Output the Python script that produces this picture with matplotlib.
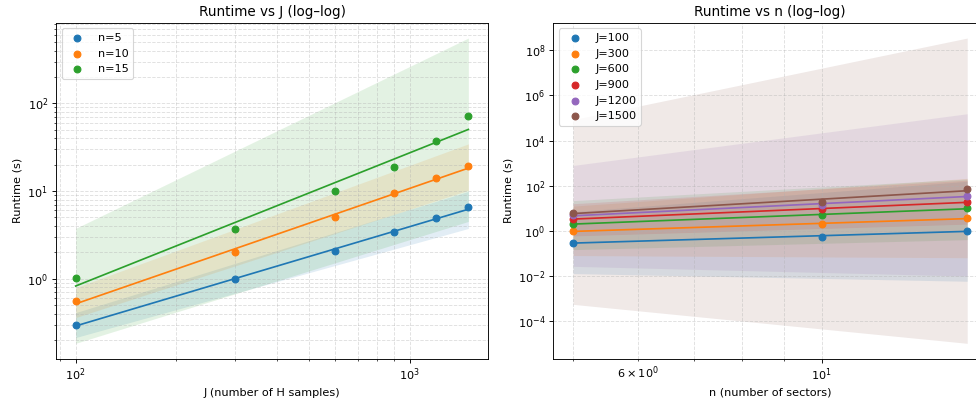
import numpy as np
import matplotlib
matplotlib.use("Agg")
import matplotlib.pyplot as plt

# measured runtimes (s), rows = n, columns = J
J_vals = [100, 300, 600, 900, 1200, 1500]
n_vals = [5, 10, 15]
runtime_n5 = [0.30, 0.98, 2.05, 3.4, 4.95, 6.5]
runtime_n10 = [0.556, 2.0, 5.1, 9.4, 13.9, 19.3]
runtime_n15 = [1.02, 3.7, 9.95, 19.0, 37.0, 72.0]

# confidence bands read at the ends of each fit
band_J_x = [100, 1500]
band_J_lo = [[0.213, 3.74], [0.36, 10.2], [0.183, 4.5]]
band_J_hi = [[0.41, 9.9], [0.79, 34.5], [3.75, 556.0]]

band_n_x = [5, 15]
band_n_lo = [[0.0129, 0.0059], [0.081, 0.065], [0.148, 0.41],
             [0.6, 2.0], [0.027, 0.010], [5.6e-4, 1.05e-5]]
band_n_hi = [[7.1, 158.0], [12.6, 214.0], [22.0, 200.0],
             [16.0, 178.0], [794.0, 1.55e5], [8.5e4, 3.5e8]]

runtime = np.array([runtime_n5, runtime_n10, runtime_n15])
colors = plt.rcParams['axes.prop_cycle'].by_key()['color']


def loglog_fit(x, y, xe):
    b, a = np.polyfit(np.log10(x), np.log10(y), 1)
    return 10 ** (a + b * np.log10(xe))


DPI = 81.3
fig = plt.figure(figsize=(976 / DPI, 402 / DPI), dpi=DPI)
ax1 = fig.add_axes([0.0574, 0.108, 0.4426, 0.8353])
ax2 = fig.add_axes([0.5669, 0.108, 0.4443, 0.8353])

for i, n in enumerate(n_vals):
    c = colors[i]
    ax1.fill_between(band_J_x, band_J_lo[i], band_J_hi[i], color=c, alpha=0.13, lw=0)
    ax1.plot(band_J_x, loglog_fit(J_vals, runtime[i], band_J_x), color=c, lw=1.5)
    ax1.scatter(J_vals, runtime[i], color=c, zorder=3, label=f'n={n}')

for j, J in enumerate(J_vals):
    c = colors[j]
    ax2.fill_between(band_n_x, band_n_lo[j], band_n_hi[j], color=c, alpha=0.13, lw=0)
    ax2.plot(band_n_x, loglog_fit(n_vals, runtime[:, j], band_n_x), color=c, lw=1.5)
    ax2.scatter(n_vals, runtime[:, j], color=c, zorder=3, label=f'J={J}')

for ax in (ax1, ax2):
    ax.set_xscale('log')
    ax.set_yscale('log')
    ax.grid(True, which='both', ls='--', alpha=0.4)
    ax.set_ylabel('Runtime (s)')
    ax.legend(loc='upper left')

ax1.set_title('Runtime vs J (log–log)')
ax1.set_xlabel('J (number of H samples)')
ax2.set_title('Runtime vs n (log–log)')
ax2.set_xlabel('n (number of sectors)')

fig.savefig('out.png', dpi=DPI)
